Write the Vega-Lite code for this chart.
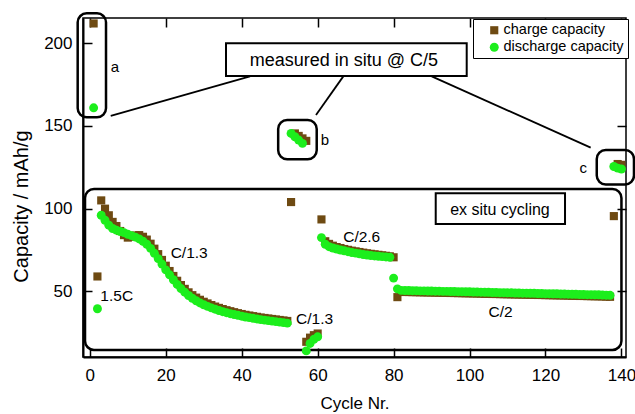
{
  "$schema": "https://vega.github.io/schema/vega-lite/v6.json",
  "width": 543,
  "height": 339,
  "autosize": {"type": "none"},
  "padding": {"left": 83, "top": 18, "right": 9, "bottom": 57},
  "background": "white",
  "config": {
    "font": "Liberation Sans",
    "view": {"stroke": "black", "strokeWidth": 1.5},
    "axis": {
      "grid": false,
      "domainColor": "black",
      "domainWidth": 1.5,
      "tickColor": "black",
      "tickWidth": 1.5,
      "tickSize": -9,
      "labelColor": "black",
      "labelFont": "Liberation Sans",
      "labelFontSize": 17,
      "titleFont": "Liberation Sans",
      "titleFontWeight": "normal",
      "titleColor": "black"
    }
  },
  "datasets": {
    "pts": [
      {"cycle": 1, "type": "charge capacity", "cap": 212},
      {"cycle": 2, "type": "charge capacity", "cap": 59},
      {"cycle": 3, "type": "charge capacity", "cap": 105},
      {"cycle": 4, "type": "charge capacity", "cap": 100},
      {"cycle": 5, "type": "charge capacity", "cap": 96},
      {"cycle": 6, "type": "charge capacity", "cap": 92},
      {"cycle": 7, "type": "charge capacity", "cap": 89.5},
      {"cycle": 8, "type": "charge capacity", "cap": 86.5},
      {"cycle": 9, "type": "charge capacity", "cap": 84},
      {"cycle": 10, "type": "charge capacity", "cap": 82.5},
      {"cycle": 11, "type": "charge capacity", "cap": 83},
      {"cycle": 12, "type": "charge capacity", "cap": 83.8},
      {"cycle": 13, "type": "charge capacity", "cap": 84},
      {"cycle": 14, "type": "charge capacity", "cap": 83},
      {"cycle": 15, "type": "charge capacity", "cap": 81.3},
      {"cycle": 16, "type": "charge capacity", "cap": 78.8},
      {"cycle": 17, "type": "charge capacity", "cap": 75.8},
      {"cycle": 18, "type": "charge capacity", "cap": 72.5},
      {"cycle": 19, "type": "charge capacity", "cap": 69},
      {"cycle": 20, "type": "charge capacity", "cap": 65.5},
      {"cycle": 21, "type": "charge capacity", "cap": 62.3},
      {"cycle": 22, "type": "charge capacity", "cap": 59.3},
      {"cycle": 23, "type": "charge capacity", "cap": 56.4},
      {"cycle": 24, "type": "charge capacity", "cap": 53.8},
      {"cycle": 25, "type": "charge capacity", "cap": 51.5},
      {"cycle": 26, "type": "charge capacity", "cap": 49.4},
      {"cycle": 27, "type": "charge capacity", "cap": 47.7},
      {"cycle": 28, "type": "charge capacity", "cap": 46.2},
      {"cycle": 29, "type": "charge capacity", "cap": 44.9},
      {"cycle": 30, "type": "charge capacity", "cap": 43.7},
      {"cycle": 31, "type": "charge capacity", "cap": 42.7},
      {"cycle": 32, "type": "charge capacity", "cap": 41.7},
      {"cycle": 33, "type": "charge capacity", "cap": 40.8},
      {"cycle": 34, "type": "charge capacity", "cap": 40},
      {"cycle": 35, "type": "charge capacity", "cap": 39.3},
      {"cycle": 36, "type": "charge capacity", "cap": 38.6},
      {"cycle": 37, "type": "charge capacity", "cap": 38},
      {"cycle": 38, "type": "charge capacity", "cap": 37.4},
      {"cycle": 39, "type": "charge capacity", "cap": 36.8},
      {"cycle": 40, "type": "charge capacity", "cap": 36.3},
      {"cycle": 41, "type": "charge capacity", "cap": 35.8},
      {"cycle": 42, "type": "charge capacity", "cap": 35.4},
      {"cycle": 43, "type": "charge capacity", "cap": 35},
      {"cycle": 44, "type": "charge capacity", "cap": 34.6},
      {"cycle": 45, "type": "charge capacity", "cap": 34.2},
      {"cycle": 46, "type": "charge capacity", "cap": 33.9},
      {"cycle": 47, "type": "charge capacity", "cap": 33.6},
      {"cycle": 48, "type": "charge capacity", "cap": 33.3},
      {"cycle": 49, "type": "charge capacity", "cap": 33},
      {"cycle": 50, "type": "charge capacity", "cap": 32.7},
      {"cycle": 51, "type": "charge capacity", "cap": 32.4},
      {"cycle": 52, "type": "charge capacity", "cap": 32.1},
      {"cycle": 53, "type": "charge capacity", "cap": 104},
      {"cycle": 54, "type": "charge capacity", "cap": 145.5},
      {"cycle": 55, "type": "charge capacity", "cap": 144},
      {"cycle": 56, "type": "charge capacity", "cap": 142.5},
      {"cycle": 57, "type": "charge capacity", "cap": 141},
      {"cycle": 57, "type": "charge capacity", "cap": 19.5},
      {"cycle": 58, "type": "charge capacity", "cap": 22},
      {"cycle": 59, "type": "charge capacity", "cap": 23.5},
      {"cycle": 60, "type": "charge capacity", "cap": 24.5},
      {"cycle": 61, "type": "charge capacity", "cap": 93.5},
      {"cycle": 62, "type": "charge capacity", "cap": 80.3},
      {"cycle": 63, "type": "charge capacity", "cap": 78.7},
      {"cycle": 64, "type": "charge capacity", "cap": 77.6},
      {"cycle": 65, "type": "charge capacity", "cap": 76.8},
      {"cycle": 66, "type": "charge capacity", "cap": 76.2},
      {"cycle": 67, "type": "charge capacity", "cap": 75.6},
      {"cycle": 68, "type": "charge capacity", "cap": 75.1},
      {"cycle": 69, "type": "charge capacity", "cap": 74.6},
      {"cycle": 70, "type": "charge capacity", "cap": 74.2},
      {"cycle": 71, "type": "charge capacity", "cap": 73.8},
      {"cycle": 72, "type": "charge capacity", "cap": 73.4},
      {"cycle": 73, "type": "charge capacity", "cap": 73},
      {"cycle": 74, "type": "charge capacity", "cap": 72.7},
      {"cycle": 75, "type": "charge capacity", "cap": 72.4},
      {"cycle": 76, "type": "charge capacity", "cap": 72.1},
      {"cycle": 77, "type": "charge capacity", "cap": 71.8},
      {"cycle": 78, "type": "charge capacity", "cap": 71.5},
      {"cycle": 79, "type": "charge capacity", "cap": 71.2},
      {"cycle": 80, "type": "charge capacity", "cap": 70.6},
      {"cycle": 81, "type": "charge capacity", "cap": 46.5},
      {"cycle": 82, "type": "charge capacity", "cap": 49.7},
      {"cycle": 83, "type": "charge capacity", "cap": 49.6},
      {"cycle": 84, "type": "charge capacity", "cap": 49.6},
      {"cycle": 85, "type": "charge capacity", "cap": 49.5},
      {"cycle": 86, "type": "charge capacity", "cap": 49.5},
      {"cycle": 87, "type": "charge capacity", "cap": 49.4},
      {"cycle": 88, "type": "charge capacity", "cap": 49.4},
      {"cycle": 89, "type": "charge capacity", "cap": 49.3},
      {"cycle": 90, "type": "charge capacity", "cap": 49.3},
      {"cycle": 91, "type": "charge capacity", "cap": 49.2},
      {"cycle": 92, "type": "charge capacity", "cap": 49.2},
      {"cycle": 93, "type": "charge capacity", "cap": 49.1},
      {"cycle": 94, "type": "charge capacity", "cap": 49.1},
      {"cycle": 95, "type": "charge capacity", "cap": 49.0},
      {"cycle": 96, "type": "charge capacity", "cap": 49.0},
      {"cycle": 97, "type": "charge capacity", "cap": 48.9},
      {"cycle": 98, "type": "charge capacity", "cap": 48.9},
      {"cycle": 99, "type": "charge capacity", "cap": 48.8},
      {"cycle": 100, "type": "charge capacity", "cap": 48.8},
      {"cycle": 101, "type": "charge capacity", "cap": 48.7},
      {"cycle": 102, "type": "charge capacity", "cap": 48.7},
      {"cycle": 103, "type": "charge capacity", "cap": 48.6},
      {"cycle": 104, "type": "charge capacity", "cap": 48.5},
      {"cycle": 105, "type": "charge capacity", "cap": 48.5},
      {"cycle": 106, "type": "charge capacity", "cap": 48.4},
      {"cycle": 107, "type": "charge capacity", "cap": 48.4},
      {"cycle": 108, "type": "charge capacity", "cap": 48.3},
      {"cycle": 109, "type": "charge capacity", "cap": 48.3},
      {"cycle": 110, "type": "charge capacity", "cap": 48.2},
      {"cycle": 111, "type": "charge capacity", "cap": 48.2},
      {"cycle": 112, "type": "charge capacity", "cap": 48.1},
      {"cycle": 113, "type": "charge capacity", "cap": 48.1},
      {"cycle": 114, "type": "charge capacity", "cap": 48.0},
      {"cycle": 115, "type": "charge capacity", "cap": 48.0},
      {"cycle": 116, "type": "charge capacity", "cap": 47.9},
      {"cycle": 117, "type": "charge capacity", "cap": 47.9},
      {"cycle": 118, "type": "charge capacity", "cap": 47.8},
      {"cycle": 119, "type": "charge capacity", "cap": 47.8},
      {"cycle": 120, "type": "charge capacity", "cap": 47.7},
      {"cycle": 121, "type": "charge capacity", "cap": 47.7},
      {"cycle": 122, "type": "charge capacity", "cap": 47.6},
      {"cycle": 123, "type": "charge capacity", "cap": 47.6},
      {"cycle": 124, "type": "charge capacity", "cap": 47.5},
      {"cycle": 125, "type": "charge capacity", "cap": 47.5},
      {"cycle": 126, "type": "charge capacity", "cap": 47.4},
      {"cycle": 127, "type": "charge capacity", "cap": 47.3},
      {"cycle": 128, "type": "charge capacity", "cap": 47.3},
      {"cycle": 129, "type": "charge capacity", "cap": 47.2},
      {"cycle": 130, "type": "charge capacity", "cap": 47.2},
      {"cycle": 131, "type": "charge capacity", "cap": 47.1},
      {"cycle": 132, "type": "charge capacity", "cap": 47.1},
      {"cycle": 133, "type": "charge capacity", "cap": 47.0},
      {"cycle": 134, "type": "charge capacity", "cap": 47.0},
      {"cycle": 135, "type": "charge capacity", "cap": 46.9},
      {"cycle": 136, "type": "charge capacity", "cap": 46.8},
      {"cycle": 137, "type": "charge capacity", "cap": 46.7},
      {"cycle": 138, "type": "charge capacity", "cap": 95.5},
      {"cycle": 139, "type": "charge capacity", "cap": 127},
      {"cycle": 140, "type": "charge capacity", "cap": 126.5},
      {"cycle": 1, "type": "discharge capacity", "cap": 161},
      {"cycle": 2, "type": "discharge capacity", "cap": 39.5},
      {"cycle": 3, "type": "discharge capacity", "cap": 96},
      {"cycle": 4, "type": "discharge capacity", "cap": 93},
      {"cycle": 5, "type": "discharge capacity", "cap": 90},
      {"cycle": 6, "type": "discharge capacity", "cap": 88},
      {"cycle": 7, "type": "discharge capacity", "cap": 87},
      {"cycle": 8, "type": "discharge capacity", "cap": 86.2},
      {"cycle": 9, "type": "discharge capacity", "cap": 85.5},
      {"cycle": 10, "type": "discharge capacity", "cap": 84.5},
      {"cycle": 11, "type": "discharge capacity", "cap": 83.7},
      {"cycle": 12, "type": "discharge capacity", "cap": 82.8},
      {"cycle": 13, "type": "discharge capacity", "cap": 81.7},
      {"cycle": 14, "type": "discharge capacity", "cap": 80.3},
      {"cycle": 15, "type": "discharge capacity", "cap": 78.5},
      {"cycle": 16, "type": "discharge capacity", "cap": 76},
      {"cycle": 17, "type": "discharge capacity", "cap": 73},
      {"cycle": 18, "type": "discharge capacity", "cap": 69.8},
      {"cycle": 19, "type": "discharge capacity", "cap": 66.5},
      {"cycle": 20, "type": "discharge capacity", "cap": 63},
      {"cycle": 21, "type": "discharge capacity", "cap": 60},
      {"cycle": 22, "type": "discharge capacity", "cap": 57},
      {"cycle": 23, "type": "discharge capacity", "cap": 54.2},
      {"cycle": 24, "type": "discharge capacity", "cap": 51.7},
      {"cycle": 25, "type": "discharge capacity", "cap": 49.5},
      {"cycle": 26, "type": "discharge capacity", "cap": 47.5},
      {"cycle": 27, "type": "discharge capacity", "cap": 45.8},
      {"cycle": 28, "type": "discharge capacity", "cap": 44.3},
      {"cycle": 29, "type": "discharge capacity", "cap": 43},
      {"cycle": 30, "type": "discharge capacity", "cap": 41.9},
      {"cycle": 31, "type": "discharge capacity", "cap": 40.9},
      {"cycle": 32, "type": "discharge capacity", "cap": 40},
      {"cycle": 33, "type": "discharge capacity", "cap": 39.2},
      {"cycle": 34, "type": "discharge capacity", "cap": 38.4},
      {"cycle": 35, "type": "discharge capacity", "cap": 37.7},
      {"cycle": 36, "type": "discharge capacity", "cap": 37.1},
      {"cycle": 37, "type": "discharge capacity", "cap": 36.5},
      {"cycle": 38, "type": "discharge capacity", "cap": 36},
      {"cycle": 39, "type": "discharge capacity", "cap": 35.5},
      {"cycle": 40, "type": "discharge capacity", "cap": 35},
      {"cycle": 41, "type": "discharge capacity", "cap": 34.5},
      {"cycle": 42, "type": "discharge capacity", "cap": 34.1},
      {"cycle": 43, "type": "discharge capacity", "cap": 33.7},
      {"cycle": 44, "type": "discharge capacity", "cap": 33.3},
      {"cycle": 45, "type": "discharge capacity", "cap": 32.9},
      {"cycle": 46, "type": "discharge capacity", "cap": 32.6},
      {"cycle": 47, "type": "discharge capacity", "cap": 32.3},
      {"cycle": 48, "type": "discharge capacity", "cap": 32},
      {"cycle": 49, "type": "discharge capacity", "cap": 31.7},
      {"cycle": 50, "type": "discharge capacity", "cap": 31.4},
      {"cycle": 51, "type": "discharge capacity", "cap": 31.1},
      {"cycle": 52, "type": "discharge capacity", "cap": 30.8},
      {"cycle": 53, "type": "discharge capacity", "cap": 145.5},
      {"cycle": 54, "type": "discharge capacity", "cap": 143.5},
      {"cycle": 55, "type": "discharge capacity", "cap": 141.5},
      {"cycle": 56, "type": "discharge capacity", "cap": 139.5},
      {"cycle": 57, "type": "discharge capacity", "cap": 14},
      {"cycle": 58, "type": "discharge capacity", "cap": 18.5},
      {"cycle": 59, "type": "discharge capacity", "cap": 21},
      {"cycle": 60, "type": "discharge capacity", "cap": 22.5},
      {"cycle": 61, "type": "discharge capacity", "cap": 82.5},
      {"cycle": 62, "type": "discharge capacity", "cap": 78.5},
      {"cycle": 63, "type": "discharge capacity", "cap": 77},
      {"cycle": 64, "type": "discharge capacity", "cap": 76.2},
      {"cycle": 65, "type": "discharge capacity", "cap": 75.6},
      {"cycle": 66, "type": "discharge capacity", "cap": 75},
      {"cycle": 67, "type": "discharge capacity", "cap": 74.5},
      {"cycle": 68, "type": "discharge capacity", "cap": 74},
      {"cycle": 69, "type": "discharge capacity", "cap": 73.5},
      {"cycle": 70, "type": "discharge capacity", "cap": 73.1},
      {"cycle": 71, "type": "discharge capacity", "cap": 72.7},
      {"cycle": 72, "type": "discharge capacity", "cap": 72.3},
      {"cycle": 73, "type": "discharge capacity", "cap": 72},
      {"cycle": 74, "type": "discharge capacity", "cap": 71.7},
      {"cycle": 75, "type": "discharge capacity", "cap": 71.4},
      {"cycle": 76, "type": "discharge capacity", "cap": 71.2},
      {"cycle": 77, "type": "discharge capacity", "cap": 71},
      {"cycle": 78, "type": "discharge capacity", "cap": 70.8},
      {"cycle": 79, "type": "discharge capacity", "cap": 70.6},
      {"cycle": 80, "type": "discharge capacity", "cap": 58},
      {"cycle": 81, "type": "discharge capacity", "cap": 51.5},
      {"cycle": 82, "type": "discharge capacity", "cap": 50.6},
      {"cycle": 83, "type": "discharge capacity", "cap": 50.5},
      {"cycle": 84, "type": "discharge capacity", "cap": 50.5},
      {"cycle": 85, "type": "discharge capacity", "cap": 50.4},
      {"cycle": 86, "type": "discharge capacity", "cap": 50.4},
      {"cycle": 87, "type": "discharge capacity", "cap": 50.3},
      {"cycle": 88, "type": "discharge capacity", "cap": 50.3},
      {"cycle": 89, "type": "discharge capacity", "cap": 50.2},
      {"cycle": 90, "type": "discharge capacity", "cap": 50.2},
      {"cycle": 91, "type": "discharge capacity", "cap": 50.1},
      {"cycle": 92, "type": "discharge capacity", "cap": 50.1},
      {"cycle": 93, "type": "discharge capacity", "cap": 50.0},
      {"cycle": 94, "type": "discharge capacity", "cap": 50.0},
      {"cycle": 95, "type": "discharge capacity", "cap": 49.9},
      {"cycle": 96, "type": "discharge capacity", "cap": 49.9},
      {"cycle": 97, "type": "discharge capacity", "cap": 49.8},
      {"cycle": 98, "type": "discharge capacity", "cap": 49.8},
      {"cycle": 99, "type": "discharge capacity", "cap": 49.7},
      {"cycle": 100, "type": "discharge capacity", "cap": 49.7},
      {"cycle": 101, "type": "discharge capacity", "cap": 49.6},
      {"cycle": 102, "type": "discharge capacity", "cap": 49.6},
      {"cycle": 103, "type": "discharge capacity", "cap": 49.5},
      {"cycle": 104, "type": "discharge capacity", "cap": 49.4},
      {"cycle": 105, "type": "discharge capacity", "cap": 49.4},
      {"cycle": 106, "type": "discharge capacity", "cap": 49.3},
      {"cycle": 107, "type": "discharge capacity", "cap": 49.3},
      {"cycle": 108, "type": "discharge capacity", "cap": 49.2},
      {"cycle": 109, "type": "discharge capacity", "cap": 49.2},
      {"cycle": 110, "type": "discharge capacity", "cap": 49.1},
      {"cycle": 111, "type": "discharge capacity", "cap": 49.1},
      {"cycle": 112, "type": "discharge capacity", "cap": 49.0},
      {"cycle": 113, "type": "discharge capacity", "cap": 49.0},
      {"cycle": 114, "type": "discharge capacity", "cap": 48.9},
      {"cycle": 115, "type": "discharge capacity", "cap": 48.9},
      {"cycle": 116, "type": "discharge capacity", "cap": 48.8},
      {"cycle": 117, "type": "discharge capacity", "cap": 48.8},
      {"cycle": 118, "type": "discharge capacity", "cap": 48.7},
      {"cycle": 119, "type": "discharge capacity", "cap": 48.7},
      {"cycle": 120, "type": "discharge capacity", "cap": 48.6},
      {"cycle": 121, "type": "discharge capacity", "cap": 48.6},
      {"cycle": 122, "type": "discharge capacity", "cap": 48.5},
      {"cycle": 123, "type": "discharge capacity", "cap": 48.5},
      {"cycle": 124, "type": "discharge capacity", "cap": 48.4},
      {"cycle": 125, "type": "discharge capacity", "cap": 48.4},
      {"cycle": 126, "type": "discharge capacity", "cap": 48.3},
      {"cycle": 127, "type": "discharge capacity", "cap": 48.2},
      {"cycle": 128, "type": "discharge capacity", "cap": 48.2},
      {"cycle": 129, "type": "discharge capacity", "cap": 48.1},
      {"cycle": 130, "type": "discharge capacity", "cap": 48.1},
      {"cycle": 131, "type": "discharge capacity", "cap": 48.0},
      {"cycle": 132, "type": "discharge capacity", "cap": 48.0},
      {"cycle": 133, "type": "discharge capacity", "cap": 47.9},
      {"cycle": 134, "type": "discharge capacity", "cap": 47.9},
      {"cycle": 135, "type": "discharge capacity", "cap": 47.8},
      {"cycle": 136, "type": "discharge capacity", "cap": 47.7},
      {"cycle": 137, "type": "discharge capacity", "cap": 47.6},
      {"cycle": 138, "type": "discharge capacity", "cap": 125.5},
      {"cycle": 139, "type": "discharge capacity", "cap": 124.5},
      {"cycle": 140, "type": "discharge capacity", "cap": 124}
    ],
    "roundBoxes": [
      {"name": "inset", "x1": -1.27, "x2": 140.0, "y1": 111.9, "y2": 14.6},
      {"name": "a", "x1": -3.2, "x2": 4.26, "y1": 218.1, "y2": 155.3},
      {"name": "b", "x1": 49.6, "x2": 59.75, "y1": 153.6, "y2": 129.9},
      {"name": "c", "x1": 133.5, "x2": 143.3, "y1": 135.5, "y2": 114.6}
    ],
    "squareBoxes": [
      {"name": "measured", "x1": 35.86, "x2": 99.25, "y1": 200.0, "y2": 180.23},
      {"name": "exsitu", "x1": 91.09, "x2": 125.14, "y1": 109.3, "y2": 90.75}
    ],
    "lines": [
      {"x1": 5.5, "y1": 156.05, "x2": 42.18, "y2": 180.0},
      {"x1": 66.75, "y1": 180.0, "x2": 59.56, "y2": 156.7},
      {"x1": 90.04, "y1": 180.0, "x2": 131.9, "y2": 136.9}
    ],
    "rateLabels": [
      {"x": 7.08, "y": 47.3, "label": "1.5C"},
      {"x": 26.17, "y": 73.0, "label": "C/1.3"},
      {"x": 59.2, "y": 33.3, "label": "C/1.3"},
      {"x": 71.6, "y": 82.6, "label": "C/2.6"},
      {"x": 108.16, "y": 37.7, "label": "C/2"}
    ],
    "letterLabels": [
      {"x": 6.63, "y": 185.9, "label": "a"},
      {"x": 61.9, "y": 141.5, "label": "b"},
      {"x": 129.96, "y": 124.4, "label": "c"}
    ],
    "bigLabels": [
      {"x": 66.9, "y": 189.3, "label": "measured in situ @ C/5"}
    ],
    "midLabels": [
      {"x": 108.0, "y": 99.2, "label": "ex situ cycling"}
    ]
  },
  "layer": [
    {
      "data": {"name": "roundBoxes"},
      "mark": {"type": "rect", "fill": null, "fillOpacity": 0, "stroke": "black", "strokeWidth": 2.5, "cornerRadius": 9},
      "encoding": {
        "x": {"field": "x1", "type": "quantitative", "scale": {"domain": [-1.8, 141.2], "nice": false, "zero": false},
          "axis": {"orient": "top", "labels": false, "title": null, "domain": false, "values": [0, 20, 40, 60, 80, 100, 120, 140]}},
        "x2": {"field": "x2"},
        "y": {"field": "y1", "type": "quantitative", "scale": {"domain": [10.3, 215.3], "nice": false, "zero": false},
          "axis": {"orient": "right", "labels": false, "title": null, "domain": false, "values": [50, 100, 150, 200]}},
        "y2": {"field": "y2"}
      }
    },
    {
      "data": {"name": "lines"},
      "mark": {"type": "rule", "stroke": "black", "strokeWidth": 1.8},
      "encoding": {
        "x": {"field": "x1", "type": "quantitative", "scale": {"domain": [-1.8, 141.2], "nice": false, "zero": false}, "axis": null},
        "x2": {"field": "x2"},
        "y": {"field": "y1", "type": "quantitative", "scale": {"domain": [10.3, 215.3], "nice": false, "zero": false}, "axis": null},
        "y2": {"field": "y2"}
      }
    },
    {
      "data": {"name": "squareBoxes"},
      "mark": {"type": "rect", "fill": "white", "stroke": "black", "strokeWidth": 2},
      "encoding": {
        "x": {"field": "x1", "type": "quantitative", "scale": {"domain": [-1.8, 141.2], "nice": false, "zero": false}, "axis": null},
        "x2": {"field": "x2"},
        "y": {"field": "y1", "type": "quantitative", "scale": {"domain": [10.3, 215.3], "nice": false, "zero": false}, "axis": null},
        "y2": {"field": "y2"}
      }
    },
    {
      "data": {"name": "pts"},
      "mark": {"type": "point", "filled": true, "opacity": 1},
      "encoding": {
        "x": {"field": "cycle", "type": "quantitative", "scale": {"domain": [-1.8, 141.2], "nice": false, "zero": false},
          "axis": {"orient": "bottom", "title": "Cycle Nr.", "values": [0, 20, 40, 60, 80, 100, 120, 140], "labelPadding": 19, "titleFontSize": 17, "titlePadding": 12, "domainWidth": 2}},
        "y": {"field": "cap", "type": "quantitative", "scale": {"domain": [10.3, 215.3], "nice": false, "zero": false},
          "axis": {"orient": "left", "title": "Capacity / mAh/g", "values": [50, 100, 150, 200], "labelPadding": 20, "titleFontSize": 20, "titlePadding": 12, "titleY": 188, "domainWidth": 2}},
        "color": {"field": "type", "type": "nominal",
          "scale": {"domain": ["charge capacity", "discharge capacity"], "range": ["#6E4A12", "#1CEE1C"]},
          "legend": {"title": null, "orient": "none", "legendX": 390, "legendY": 1, "labelFontSize": 14.5, "labelFont": "Liberation Sans", "labelColor": "black", "symbolOffset": 10, "labelOffset": 2, "padding": 4, "rowPadding": 2, "strokeColor": "black", "fillColor": "white", "symbolStrokeWidth": 0}},
        "shape": {"field": "type", "type": "nominal",
          "scale": {"domain": ["charge capacity", "discharge capacity"], "range": ["square", "circle"]}},
        "size": {"field": "type", "type": "nominal",
          "scale": {"domain": ["charge capacity", "discharge capacity"], "range": [66, 80]}}
      }
    },
    {
      "data": {"name": "rateLabels"},
      "mark": {"type": "text", "fontSize": 15.5, "font": "Liberation Sans", "color": "black"},
      "encoding": {
        "x": {"field": "x", "type": "quantitative", "scale": {"domain": [-1.8, 141.2], "nice": false, "zero": false}, "axis": null},
        "y": {"field": "y", "type": "quantitative", "scale": {"domain": [10.3, 215.3], "nice": false, "zero": false}, "axis": null},
        "text": {"field": "label"}
      }
    },
    {
      "data": {"name": "letterLabels"},
      "mark": {"type": "text", "fontSize": 15, "font": "Liberation Sans", "color": "black"},
      "encoding": {
        "x": {"field": "x", "type": "quantitative", "scale": {"domain": [-1.8, 141.2], "nice": false, "zero": false}, "axis": null},
        "y": {"field": "y", "type": "quantitative", "scale": {"domain": [10.3, 215.3], "nice": false, "zero": false}, "axis": null},
        "text": {"field": "label"}
      }
    },
    {
      "data": {"name": "bigLabels"},
      "mark": {"type": "text", "fontSize": 18, "font": "Liberation Sans", "color": "black"},
      "encoding": {
        "x": {"field": "x", "type": "quantitative", "scale": {"domain": [-1.8, 141.2], "nice": false, "zero": false}, "axis": null},
        "y": {"field": "y", "type": "quantitative", "scale": {"domain": [10.3, 215.3], "nice": false, "zero": false}, "axis": null},
        "text": {"field": "label"}
      }
    },
    {
      "data": {"name": "midLabels"},
      "mark": {"type": "text", "fontSize": 16, "font": "Liberation Sans", "color": "black"},
      "encoding": {
        "x": {"field": "x", "type": "quantitative", "scale": {"domain": [-1.8, 141.2], "nice": false, "zero": false}, "axis": null},
        "y": {"field": "y", "type": "quantitative", "scale": {"domain": [10.3, 215.3], "nice": false, "zero": false}, "axis": null},
        "text": {"field": "label"}
      }
    }
  ]
}
